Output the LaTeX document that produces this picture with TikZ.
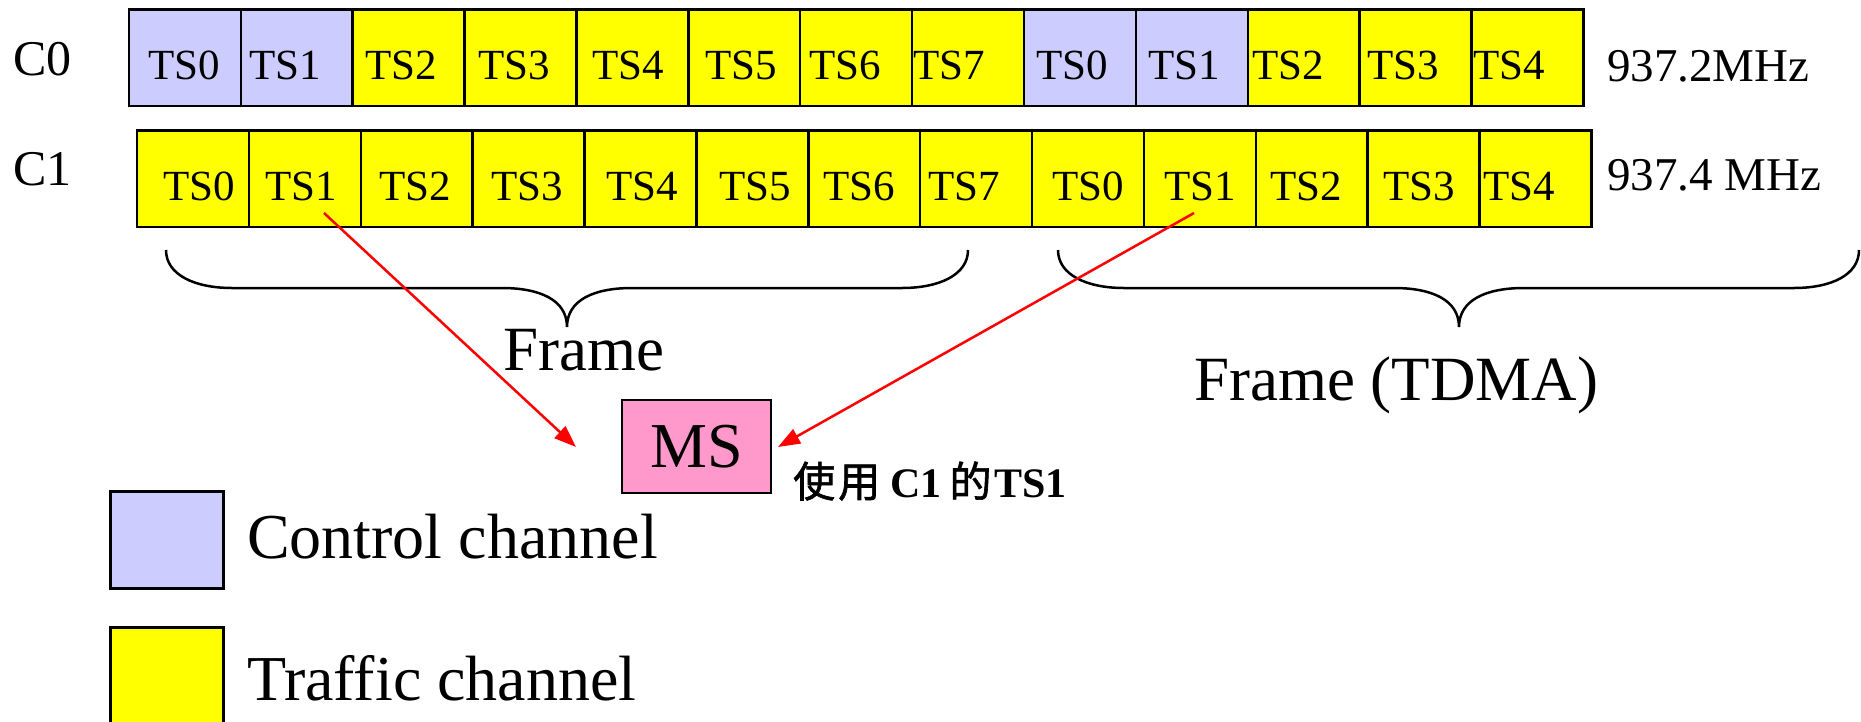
\documentclass[tikz,border=0pt]{standalone}
\usepackage{fontspec}
\setmainfont{Liberation Serif}
\newfontfamily\cjk{Noto Sans CJK TC}[FakeBold=1.5]
\usetikzlibrary{arrows.meta}
\definecolor{ctrl}{HTML}{CCCCFF}
\definecolor{traf}{HTML}{FFFF00}
\definecolor{mspink}{HTML}{FF99CC}
\begin{document}
\begin{tikzpicture}[x=1pt,y=-1pt,
  cell/.style={draw, line width=2.5pt, minimum width=111.88pt, minimum height=96.5pt, inner sep=0pt, anchor=north west},
  tslab/.style={anchor=base west, inner sep=0pt, font=\fontsize{43}{43}\selectfont},
  rowlab/.style={anchor=base west, inner sep=0pt, font=\fontsize{50}{50}\selectfont},
  freqlab/.style={anchor=base west, inner sep=0pt, font=\fontsize{47}{47}\selectfont},
  biglab/.style={anchor=base west, inner sep=0pt, font=\fontsize{63}{63}\selectfont},
  legbox/.style={draw, line width=2.5pt, minimum width=113pt, minimum height=97pt, inner sep=0pt, anchor=north west},
  bracepath/.style={line width=2.5pt},
  redarrow/.style={draw=red, line width=2.5pt, -{Triangle[length=22pt,width=16pt]}, red}
]
\useasboundingbox (0,0) rectangle (1861,721);

% row labels
\node[rowlab] (c0) at (13,75) {C0};
\node[rowlab] (c1) at (13,185) {C1};

% C0 cells
\foreach \i/\c in {0/ctrl,1/ctrl,2/traf,3/traf,4/traf,5/traf,6/traf,7/traf,8/ctrl,9/ctrl,10/traf,11/traf,12/traf}{
  \node[cell, fill=\c] (a\i) at ({127.7+111.88*\i},8.3) {};
}
% C1 cells
\foreach \i in {0,...,12}{
  \node[cell, fill=traf] (b\i) at ({135.8+111.88*\i},129.2) {};
}
% C0 texts
\foreach \i/\t/\x in {0/TS0/148,1/TS1/249,2/TS2/365,3/TS3/478,4/TS4/592,5/TS5/705,6/TS6/809,7/TS7/913,8/TS0/1036,9/TS1/1148,10/TS2/1252,11/TS3/1367,12/TS4/1473}{
  \node[tslab] (ta\i) at (\x,79.3) {\t};
}
% C1 texts
\foreach \i/\t/\x in {0/TS0/163,1/TS1/265,2/TS2/379,3/TS3/491,4/TS4/606,5/TS5/719,6/TS6/823,7/TS7/928,8/TS0/1052,9/TS1/1164,10/TS2/1270,11/TS3/1383,12/TS4/1483}{
  \node[tslab] (tb\i) at (\x,200) {\t};
}

% frequencies
\node[freqlab] (f0) at (1607,81.7) {937.2MHz};
\node[freqlab] (f1) at (1607,190) {937.4 MHz};

% braces
\draw[bracepath] (166,250) .. controls (166,275) and (195,288) .. (232,288) -- (502,288)
  .. controls (540,288) and (567,300) .. (567,327)
  .. controls (567,300) and (594,288) .. (632,288) -- (902,288)
  .. controls (939,288) and (968,275) .. (968,250);
\draw[bracepath] (1058,250) .. controls (1058,275) and (1087,288) .. (1124,288) -- (1394,288)
  .. controls (1432,288) and (1459,300) .. (1459,327)
  .. controls (1459,300) and (1486,288) .. (1524,288) -- (1794,288)
  .. controls (1831,288) and (1859,275) .. (1859,250);

\node[biglab] (fr1) at (503,370) {Frame};
\node[biglab] (fr2) at (1194,400) {Frame (TDMA)};

% MS
\node[draw, line width=2.5pt, fill=mspink, minimum width=149pt, minimum height=93pt, inner sep=0pt,
  font=\fontsize{64}{64}\selectfont] (ms) at (696.5,446.5) {MS};
\node[anchor=base west, inner sep=0pt, font=\fontsize{42}{42}\selectfont] (use) at (793,497)
  {{\cjk 使\hspace{3pt}用}\hspace{10pt}\textbf{C1}\hspace{8pt}{\cjk 的}\hspace{3pt}\textbf{TS1}};

% arrows
\coordinate (s1) at (324,213);
\coordinate (e1) at (576,447);
\coordinate (s2) at (1194,213);
\coordinate (e2) at (778,447);
\draw[redarrow] (s1) -- (e1);
\draw[redarrow] (s2) -- (e2);

% legend
\node[legbox, fill=ctrl] (lc) at (109,490) {};
\node[legbox, fill=traf] (lt) at (109,626) {};
\node[anchor=base west, inner sep=0pt, font=\fontsize{64}{64}\selectfont] (lct) at (247,558) {Control channel};
\node[anchor=base west, inner sep=0pt, font=\fontsize{64}{64}\selectfont] (ltt) at (247,700) {Traffic channel};
\end{tikzpicture}
\end{document}
